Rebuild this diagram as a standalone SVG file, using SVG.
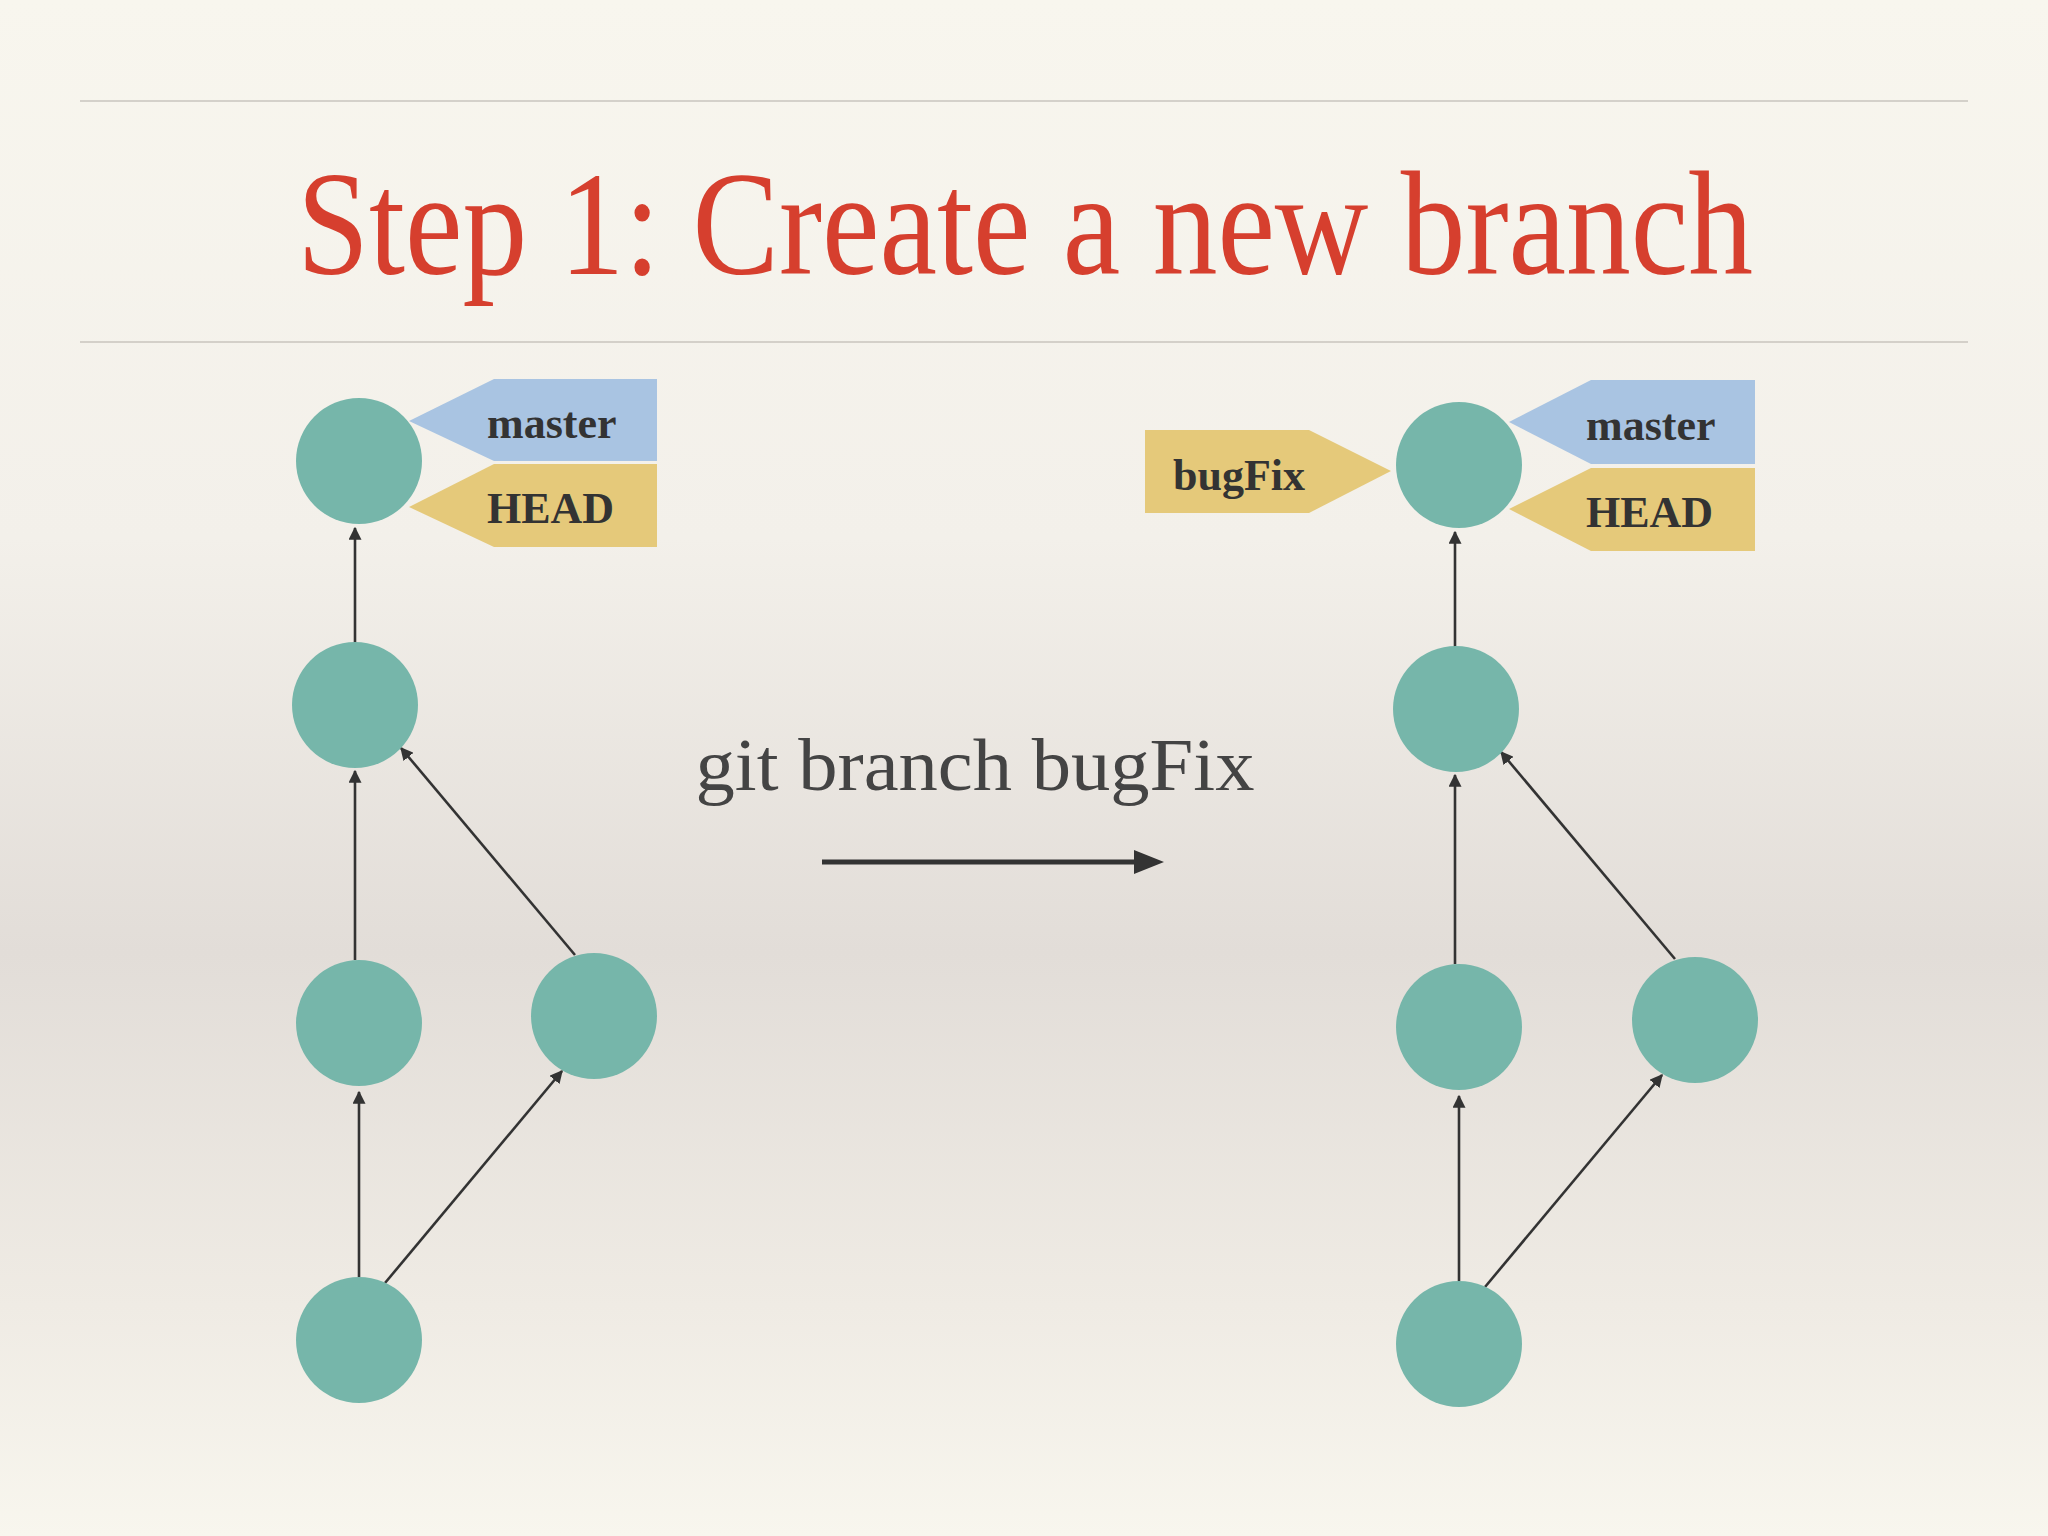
<svg xmlns="http://www.w3.org/2000/svg" width="2048" height="1536" viewBox="0 0 2048 1536">
<defs>
<linearGradient id="bg" x1="0" y1="0" x2="0" y2="1">
<stop offset="0" stop-color="#f8f6ee"/>
<stop offset="0.35" stop-color="#f3f0ea"/>
<stop offset="0.62" stop-color="#e2ddd8"/>
<stop offset="0.85" stop-color="#efebe4"/>
<stop offset="1" stop-color="#f8f6ee"/>
</linearGradient>
<marker id="ah" viewBox="0 0 10 10" refX="9" refY="5" markerWidth="5" markerHeight="5" orient="auto"><path d="M0,0 L10,5 L0,10 z" fill="#333"/></marker>
<marker id="big" viewBox="0 0 10 10" refX="2" refY="5" markerWidth="6" markerHeight="6" orient="auto"><path d="M0,1 L10,5 L0,9 z" fill="#333"/></marker>
<style>
.n{fill:#76b6aa}
.c{stroke:#333;stroke-width:2.6;fill:none;marker-end:url(#ah)}
.blue{fill:#a9c4e2}
.gold{fill:#e5c97a}
.lbl{font-family:"Liberation Serif",serif;font-weight:bold;font-size:44px;fill:#333}
.rule{stroke:#c8c4be;stroke-width:1.5}
</style>
</defs>
<rect width="2048" height="1536" fill="url(#bg)"/>
<line class="rule" x1="80" y1="101" x2="1968" y2="101"/>
<line class="rule" x1="80" y1="342" x2="1968" y2="342"/>
<text x="1025" y="274" text-anchor="middle" font-family="Liberation Serif,serif" font-size="148" fill="#d63f2e" textLength="1456" lengthAdjust="spacingAndGlyphs">Step 1: Create a new branch</text>
<g id="connectors">
<line class="c" x1="355" y1="643" x2="355" y2="528"/>
<line class="c" x1="355" y1="960" x2="355" y2="771"/>
<line class="c" x1="575" y1="955" x2="401" y2="748"/>
<line class="c" x1="359" y1="1277" x2="359" y2="1092"/>
<line class="c" x1="385" y1="1283" x2="562" y2="1071"/>
<line class="c" x1="1455" y1="647" x2="1455" y2="532"/>
<line class="c" x1="1455" y1="964" x2="1455" y2="775"/>
<line class="c" x1="1675" y1="959" x2="1501" y2="752"/>
<line class="c" x1="1459" y1="1281" x2="1459" y2="1096"/>
<line class="c" x1="1485" y1="1287" x2="1662" y2="1075"/>
<line x1="822" y1="862" x2="1140" y2="862" stroke="#333" stroke-width="5" marker-end="url(#big)"/>
</g>
<text x="975" y="790" text-anchor="middle" font-family="Liberation Serif,serif" font-size="74" fill="#444" textLength="559" lengthAdjust="spacingAndGlyphs">git branch bugFix</text>
<g id="l1"><circle class="n" cx="359" cy="461" r="63"/></g>
<g id="l2"><circle class="n" cx="355" cy="705" r="63"/></g>
<g id="l3"><circle class="n" cx="359" cy="1023" r="63"/></g>
<g id="l4"><circle class="n" cx="594" cy="1016" r="63"/></g>
<g id="l5"><circle class="n" cx="359" cy="1340" r="63"/></g>
<g id="r1"><circle class="n" cx="1459" cy="465" r="63"/></g>
<g id="r2"><circle class="n" cx="1456" cy="709" r="63"/></g>
<g id="r3"><circle class="n" cx="1459" cy="1027" r="63"/></g>
<g id="r4"><circle class="n" cx="1695" cy="1020" r="63"/></g>
<g id="r5"><circle class="n" cx="1459" cy="1344" r="63"/></g>
<g id="lmaster"><polygon class="blue" points="409,421 494,379 657,379 657,461 494,461"/><text class="lbl" x="487" y="438">master</text></g>
<g id="lhead"><polygon class="gold" points="409,507 494,464 657,464 657,547 494,547"/><text class="lbl" x="487" y="523">HEAD</text></g>
<g id="rmaster"><polygon class="blue" points="1509,422 1591,380 1755,380 1755,464 1591,464"/><text class="lbl" x="1586" y="440">master</text></g>
<g id="rhead"><polygon class="gold" points="1509,509 1591,468 1755,468 1755,551 1591,551"/><text class="lbl" x="1586" y="527">HEAD</text></g>
<g id="bugfix"><polygon class="gold" points="1145,430 1309,430 1391,471 1309,513 1145,513"/><text class="lbl" x="1173" y="490">bugFix</text></g>
</svg>
